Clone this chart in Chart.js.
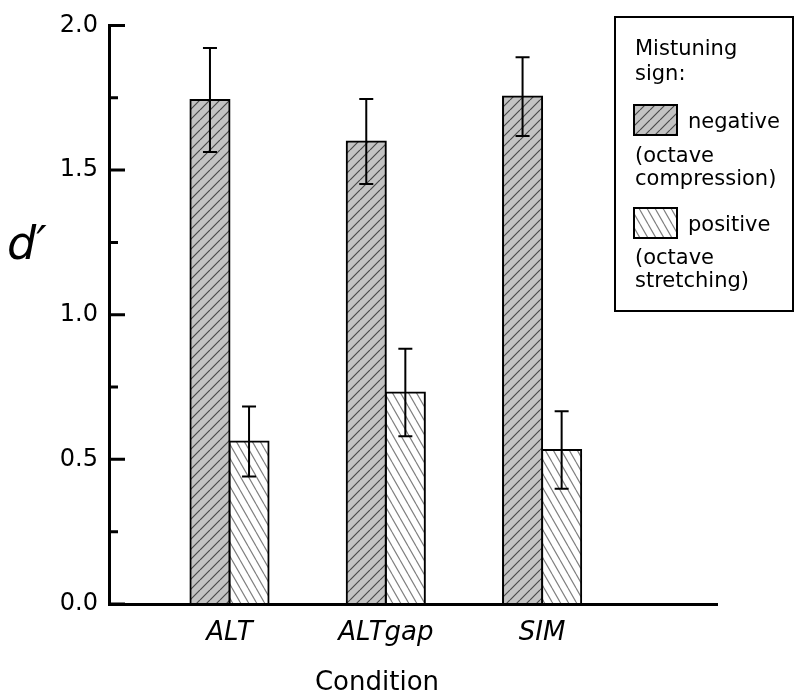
<!DOCTYPE html>
<html>
<head>
<meta charset="utf-8">
<script src="https://cdn.jsdelivr.net/npm/chart.js@4.4.0/dist/chart.umd.min.js"></script>
<style>
  html, body { margin: 0; padding: 0; background: #fff; }
  #wrap { width: 800px; height: 696px; }
</style>
</head>
<body>
<div id="wrap"><canvas id="chart" width="800" height="696"></canvas></div>
<script>
// values
const categories = ["ALT", "ALTgap", "SIM"];
const negative = [1.742, 1.599, 1.754];
const negativeErr = [0.18, 0.147, 0.136];
const positive = [0.562, 0.731, 0.532];
const positiveErr = [0.121, 0.151, 0.134];
const yMinorTicks = [0, 0.25, 0.5, 0.75, 1.0, 1.25, 1.5, 1.75, 2.0];

const FONT = "'DejaVu Sans', sans-serif";

// hatch patterns
function hatch(bg, line, w, h, dir) {
    const c = document.createElement("canvas");
    c.width = w; c.height = h;
    const g = c.getContext("2d");
    g.fillStyle = bg;
    g.fillRect(0, 0, w, h);
    g.strokeStyle = line;
    g.lineWidth = 1.2;
    g.beginPath();
    if (dir === "/") {
        for (const o of [-w, 0, w]) { g.moveTo(o, h); g.lineTo(o + w, 0); }
    } else {
        for (const o of [-w, 0, w]) { g.moveTo(o, 0); g.lineTo(o + w, h); }
    }
    g.stroke();
    return g.createPattern(c, "repeat");
}
const negFill = hatch("#c3c3c3", "#4a4a4a", 10, 10, "/");
const posFill = hatch("#ffffff", "#808080", 8, 14, "\\");

const errs = [negativeErr, positiveErr];

const errorBars = {
    id: "errorBars",
    afterDatasetsDraw(chart) {
        const ctx = chart.ctx;
        const y = chart.scales.y;
        ctx.save();
        ctx.strokeStyle = "#000";
        ctx.lineWidth = 2;
        chart.data.datasets.forEach((ds, di) => {
            chart.getDatasetMeta(di).data.forEach((bar, i) => {
                const v = ds.data[i].y;
                const e = errs[di][i];
                const top = y.getPixelForValue(v + e);
                const bot = y.getPixelForValue(v - e);
                ctx.beginPath();
                ctx.moveTo(bar.x, top); ctx.lineTo(bar.x, bot);
                ctx.moveTo(bar.x - 7, top); ctx.lineTo(bar.x + 7, top);
                ctx.moveTo(bar.x - 7, bot); ctx.lineTo(bar.x + 7, bot);
                ctx.stroke();
            });
        });
        ctx.restore();
    }
};

// inward y ticks, titles and the boxed legend
const decorations = {
    id: "decorations",
    afterDraw(chart) {
        const ctx = chart.ctx;
        const y = chart.scales.y;
        const left = chart.chartArea.left;
        ctx.save();
        ctx.strokeStyle = "#000";
        ctx.lineWidth = 3;
        ctx.beginPath();
        yMinorTicks.forEach(v => {
            const py = y.getPixelForValue(v);
            const len = (Math.round(v * 100) % 50 === 0) ? 16 : 9;
            ctx.moveTo(left, py); ctx.lineTo(left + len, py);
        });
        ctx.stroke();

        ctx.fillStyle = "#000";
        ctx.font = "italic 46px " + FONT;
        ctx.textAlign = "left";
        ctx.textBaseline = "alphabetic";
        ctx.fillText("d\u2032", 7, 259);

        ctx.font = "26px " + FONT;
        ctx.textAlign = "center";
        ctx.fillText("Condition", 377, 690);

        // legend box
        ctx.lineWidth = 2;
        ctx.strokeRect(615, 17, 178, 294);
        ctx.font = "21px " + FONT;
        ctx.textAlign = "left";
        ctx.fillText("Mistuning", 635, 55);
        ctx.fillText("sign:", 635, 80);
        ctx.fillStyle = negFill;
        ctx.fillRect(634, 105, 43, 30);
        ctx.lineWidth = 2;
        ctx.strokeRect(634, 105, 43, 30);
        ctx.fillStyle = "#000";
        ctx.fillText("negative", 688, 128);
        ctx.fillText("(octave", 635, 162);
        ctx.fillText("compression)", 635, 185);
        ctx.fillStyle = posFill;
        ctx.fillRect(634, 208, 43, 30);
        ctx.strokeRect(634, 208, 43, 30);
        ctx.fillStyle = "#000";
        ctx.fillText("positive", 688, 231);
        ctx.fillText("(octave", 635, 264);
        ctx.fillText("stretching)", 635, 287);
        ctx.restore();
    }
};

new Chart(document.getElementById("chart"), {
    type: "bar",
    data: {
        datasets: [{
            label: "negative",
            data: negative.map((v, i) => ({ x: i + 1, y: v })),
            backgroundColor: negFill,
            borderColor: "#000",
            borderWidth: 2,
            borderSkipped: false,
            inflateAmount: 1
        }, {
            label: "positive",
            data: positive.map((v, i) => ({ x: i + 1, y: v })),
            backgroundColor: posFill,
            borderColor: "#000",
            borderWidth: 2,
            borderSkipped: false,
            inflateAmount: 1
        }]
    },
    options: {
        responsive: false,
        animation: false,
        events: [],
        categoryPercentage: 0.5,
        barPercentage: 1.0,
        layout: { padding: { top: 16, right: 83, left: 0, bottom: 0 } },
        plugins: { legend: { display: false }, tooltip: { enabled: false } },
        scales: {
            x: {
                type: "linear",
                offset: false,
                min: 0.229,
                max: 4.119,
                grid: { display: false, drawTicks: false, offset: false },
                border: { color: "#000", width: 3 },
                afterBuildTicks: s => { s.ticks = categories.map((c, i) => ({ value: i + 1 })); },
                afterFit: s => { s.height = 92; },
                ticks: {
                    autoSkip: false,
                    padding: 14,
                    color: "#000",
                    font: { family: FONT, size: 26, style: "italic" },
                    callback: v => categories[v - 1]
                }
            },
            y: {
                min: 0,
                max: 2,
                grid: { display: false, drawTicks: false },
                border: { color: "#000", width: 3 },
                afterFit: s => { s.width = 109; },
                ticks: {
                    stepSize: 0.5,
                    padding: 11,
                    color: "#000",
                    font: { family: FONT, size: 24 },
                    callback: v => v.toFixed(1)
                }
            }
        }
    },
    plugins: [errorBars, decorations]
});
</script>
</body>
</html>
